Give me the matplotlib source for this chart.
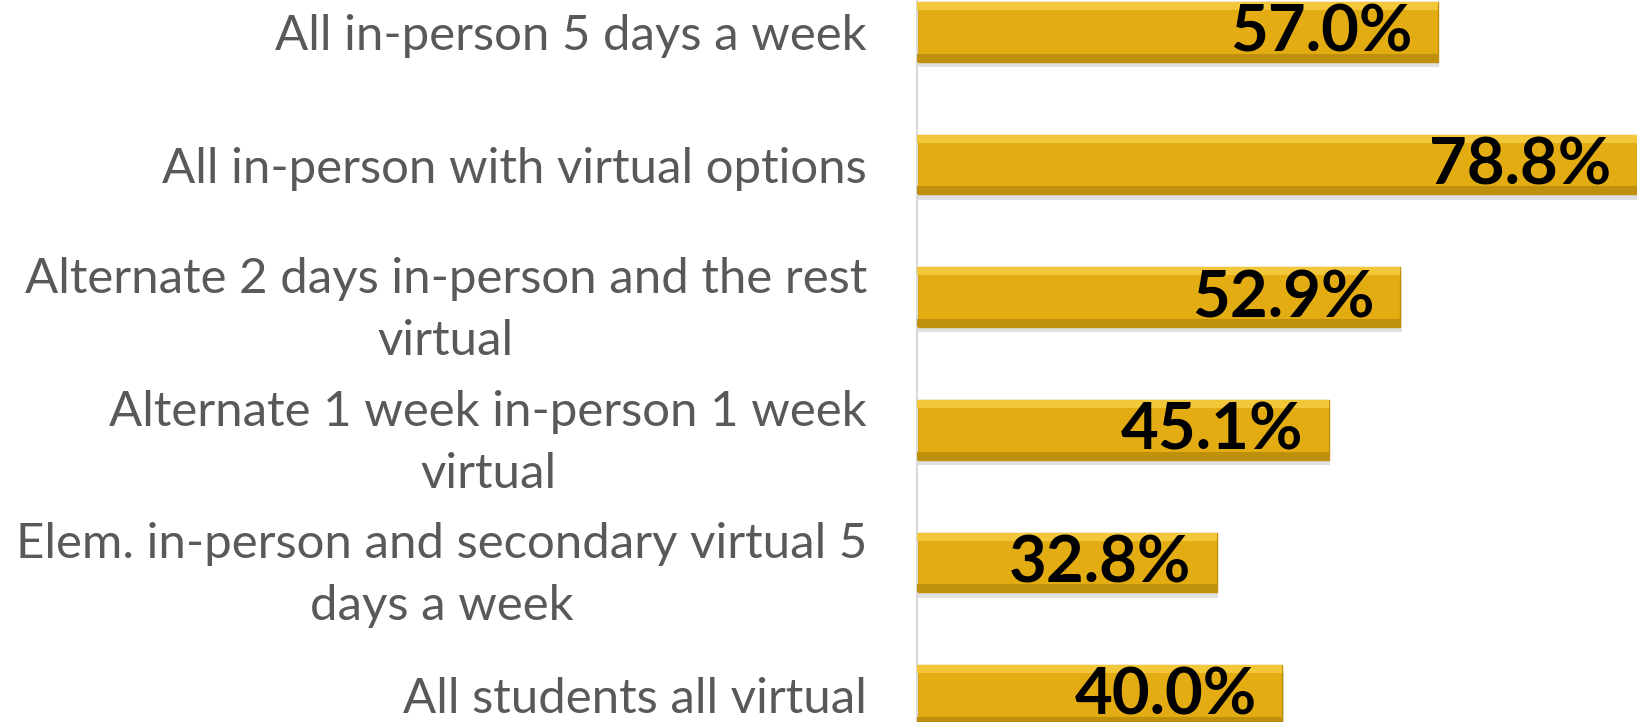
import matplotlib.pyplot as plt

# categories top -> bottom
categories = [
    "All in-person 5 days a week",
    "All in-person with virtual options",
    "Alternate 2 days in-person and the rest\nvirtual",
    "Alternate 1 week in-person 1 week\nvirtual",
    "Elem. in-person and secondary virtual 5\ndays a week",
    "All students all virtual",
]
values = [57.0, 78.8, 52.9, 45.1, 32.8, 40.0]

bar_color = "#E3AC12"
light_color = "#F2C73A"
dark_color = "#BE900C"

plt.rcParams["font.family"] = ["Lato", "DejaVu Sans"]

fig = plt.figure(figsize=(16.37, 7.22), dpi=100)
ax = fig.add_axes([917 / 1637, 0, 720 / 1637, 1])

pos = list(range(len(values)))
h = 0.45

# shadow, main bar, bevel highlights
ax.barh([p + 0.04 for p in pos], values, height=h, left=0.15, color="#999999", alpha=0.3, zorder=1)
ax.barh(pos, values, height=h, color=bar_color, edgecolor=dark_color, linewidth=1, zorder=2)
ax.barh([p - h / 2 + 0.03 for p in pos], values, height=0.06, color=light_color, zorder=3)
ax.barh([p + h / 2 - 0.03 for p in pos], values, height=0.06, color=dark_color, zorder=3)

for p, v in zip(pos, values):
    ax.text(v - 2.8, p + 0.01, f"{v:.1f}%", ha="right", va="center",
            fontsize=47, fontweight="bold", color="black", zorder=4)

ax.set_xlim(0, 78.8)
ax.set_ylim(5.203, -0.241)
ax.set_yticks(pos)
ax.set_yticklabels(categories, fontsize=35.4, color="#595959", ma="center", linespacing=1.5)
ax.tick_params(axis="y", length=0, pad=36)
ax.set_xticks([])

for s in ["top", "right", "bottom"]:
    ax.spines[s].set_visible(False)
ax.spines["left"].set_color("#D9D9D9")
ax.spines["left"].set_linewidth(1.5)

fig.savefig("out.png", dpi=100)
